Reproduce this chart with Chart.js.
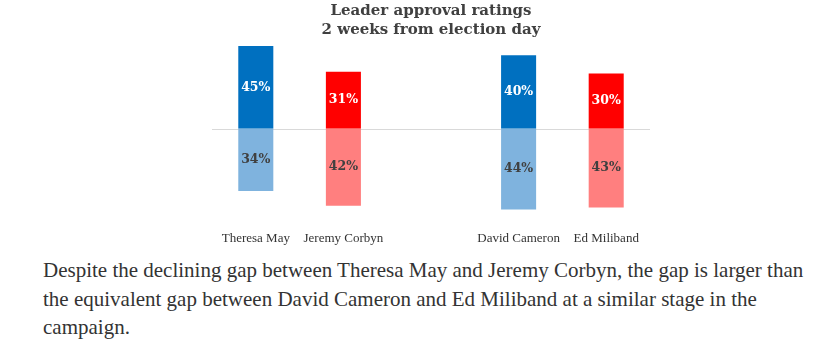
<!DOCTYPE html>
<html>
<head>
<meta charset="utf-8">
<script src="https://cdn.jsdelivr.net/npm/chart.js@4.4.1/dist/chart.umd.min.js"></script>
<style>
  body { margin: 0; background: #fff; width: 820px; height: 346px; overflow: hidden; position: relative; }
  #wrap { position: absolute; left: 0; top: 0; width: 820px; height: 256px; }
  p {
    position: absolute; left: 43px; top: 256px; margin: 0;
    font-family: "Liberation Serif", serif; font-size: 21px; line-height: 28.5px;
    color: #333; white-space: nowrap;
  }
</style>
</head>
<body>
<div id="wrap"><canvas id="chart"></canvas></div>
<p>Despite the declining gap between Theresa May and Jeremy Corbyn, the gap is larger than<br>the equivalent gap between David Cameron and Ed Miliband at a similar stage in the<br>campaign.</p>
<script>
// leaders, with an empty slot between the 2017 and 2015 pairs
const leaders = ["Theresa May", "Jeremy Corbyn", "", "David Cameron", "Ed Miliband"];
const approve = [45, 31, null, 40, 30];
const disapprove = [-34, -42, null, -44, -43];

const darkCols = ["#0070c0", "#ff0000", "#fff", "#0070c0", "#ff0000"];
const lightCols = ["#7fb3de", "#ff7f7f", "#fff", "#7fb3de", "#ff7f7f"];

const zeroLine = {
  id: "zeroLine",
  beforeDatasetsDraw(chart) {
    const { ctx, chartArea, scales } = chart;
    const y = Math.round(scales.y.getPixelForValue(0)) + 0.5;
    ctx.save();
    ctx.strokeStyle = "#d9d9d9";
    ctx.lineWidth = 1;
    ctx.beginPath();
    ctx.moveTo(chartArea.left, y);
    ctx.lineTo(chartArea.right, y);
    ctx.stroke();
    ctx.restore();
  }
};

const barLabels = {
  id: "barLabels",
  afterDatasetsDraw(chart) {
    const ctx = chart.ctx;
    ctx.save();
    ctx.font = "bold 12.5px 'DejaVu Serif', serif";
    ctx.textAlign = "center";
    ctx.textBaseline = "middle";
    chart.data.datasets.forEach((ds, i) => {
      chart.getDatasetMeta(i).data.forEach((bar, j) => {
        const v = ds.data[j];
        if (v == null) return;
        const mid = (bar.y + bar.base) / 2;
        ctx.fillStyle = i === 0 ? "#ffffff" : "#404040";
        ctx.fillText(Math.abs(v) + "%", bar.x, mid);
      });
    });
    ctx.restore();
  }
};

new Chart(document.getElementById("chart"), {
  type: "bar",
  data: {
    labels: leaders,
    datasets: [
      { label: "Approve", data: approve, backgroundColor: darkCols },
      { label: "Disapprove", data: disapprove, backgroundColor: lightCols }
    ]
  },
  options: {
    responsive: true,
    maintainAspectRatio: false,
    animation: false,
    datasets: { bar: { categoryPercentage: 1, barPercentage: 0.4 } },
    layout: { padding: { left: 212, right: 170, top: 0, bottom: 0 } },
    scales: {
      x: {
        stacked: true,
        grid: { display: false, drawTicks: false },
        border: { display: false },
        ticks: {
          color: "#333", font: { family: "Liberation Serif", size: 13 }, padding: 10,
          maxRotation: 0, minRotation: 0, autoSkip: false
        }
      },
      y: { stacked: true, display: false, min: -50, max: 45 }
    },
    plugins: {
      legend: { display: false },
      tooltip: { enabled: false },
      title: {
        display: true,
        text: ["Leader approval ratings", "2 weeks from election day"],
        color: "#404040",
        font: { family: "DejaVu Serif", size: 15, weight: "bold", lineHeight: 1.25 },
        padding: { top: 2, bottom: 6.5 }
      }
    }
  },
  plugins: [zeroLine, barLabels]
});
</script>
</body>
</html>
